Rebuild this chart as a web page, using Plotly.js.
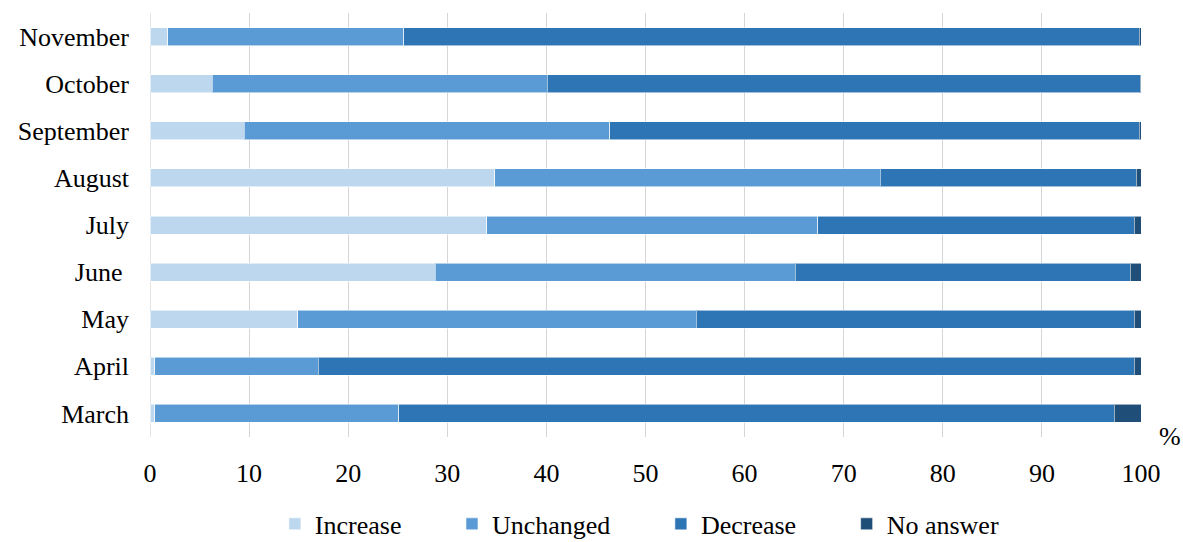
<!DOCTYPE html>
<html>
<head>
<meta charset="utf-8">
<script src="https://cdn.plot.ly/plotly-3.0.1.min.js"></script>
<style>html,body{margin:0;padding:0;background:#fff;}#chart{width:1183px;height:542px;}</style>
</head>
<body>
<div id="chart"></div>
<script>
const months = ["March", "April", "May", "June\u00a0", "July", "August", "September", "October", "November"];
const increase  = [0.5, 0.5, 14.9, 28.8, 34.0, 34.8, 9.5, 6.3, 1.8];
const unchanged = [24.6, 16.5, 40.2, 36.3, 33.4, 38.9, 36.9, 33.8, 23.8];
const decrease  = [72.2, 82.3, 44.2, 33.8, 31.9, 25.8, 53.4, 59.8, 74.2];
const noAnswer  = [2.7, 0.7, 0.7, 1.1, 0.7, 0.5, 0.2, 0.1, 0.2];
const xTicks = [0, 10, 20, 30, 40, 50, 60, 70, 80, 90, 100];

const pad = "\u00a0".repeat(7);
const names = ["Increase" + pad, "Unchanged" + pad, "Decrease" + pad, "No answer"];
const colors = ["#BDD7EE", "#5B9BD5", "#2E75B6", "#1F4E79"];
const series = [increase, unchanged, decrease, noAnswer];

const traces = series.map((vals, i) => ({
  type: "bar",
  orientation: "h",
  x: vals,
  y: months,
  name: names[i],
  marker: { color: colors[i], line: { color: "rgba(255,255,255,0.55)", width: 1 } },
  hoverinfo: "x+y+name"
}));

const font = "Liberation Serif, Times New Roman, serif";
const layout = {
  width: 1183,
  height: 542,
  barmode: "stack",
  bargap: 0.618,
  margin: { l: 150, r: 42, t: 13, b: 105, autoexpand: false },
  paper_bgcolor: "#fff",
  plot_bgcolor: "#fff",
  font: { family: font, size: 26, color: "#000" },
  xaxis: {
    range: [0, 100],
    tickvals: xTicks,
    ticktext: xTicks.map(String),
    showgrid: true,
    gridcolor: "#d6d6d6",
    gridwidth: 1.3,
    zeroline: false,
    showline: false,
    ticks: "",
    ticklabelstandoff: 18,
    tickfont: { family: font, size: 26, color: "#000" },
    automargin: false,
    fixedrange: true
  },
  yaxis: {
    type: "category",
    categoryorder: "array",
    categoryarray: months,
    showgrid: false,
    zeroline: false,
    showline: false,
    ticks: "",
    ticklabelstandoff: 20,
    tickfont: { family: font, size: 26, color: "#000" },
    automargin: false,
    fixedrange: true
  },
  shapes: [{
    type: "line", xref: "x", yref: "paper", x0: 0, x1: 0, y0: 0, y1: 1,
    line: { color: "#d6d6d6", width: 1.3 }, layer: "below"
  }],
  legend: {
    orientation: "h",
    x: 0.126, xanchor: "left",
    y: -0.205, yanchor: "middle",
    font: { family: font, size: 26, color: "#000" },
    traceorder: "normal",
    itemclick: false
  },
  annotations: [{
    text: "%", xref: "paper", yref: "paper", x: 1.029, y: 0.002,
    xanchor: "center", yanchor: "middle", showarrow: false,
    font: { family: font, size: 26, color: "#000" }
  }],
  showlegend: true
};

Plotly.newPlot("chart", traces, layout, { displayModeBar: false });
</script>
</body>
</html>
